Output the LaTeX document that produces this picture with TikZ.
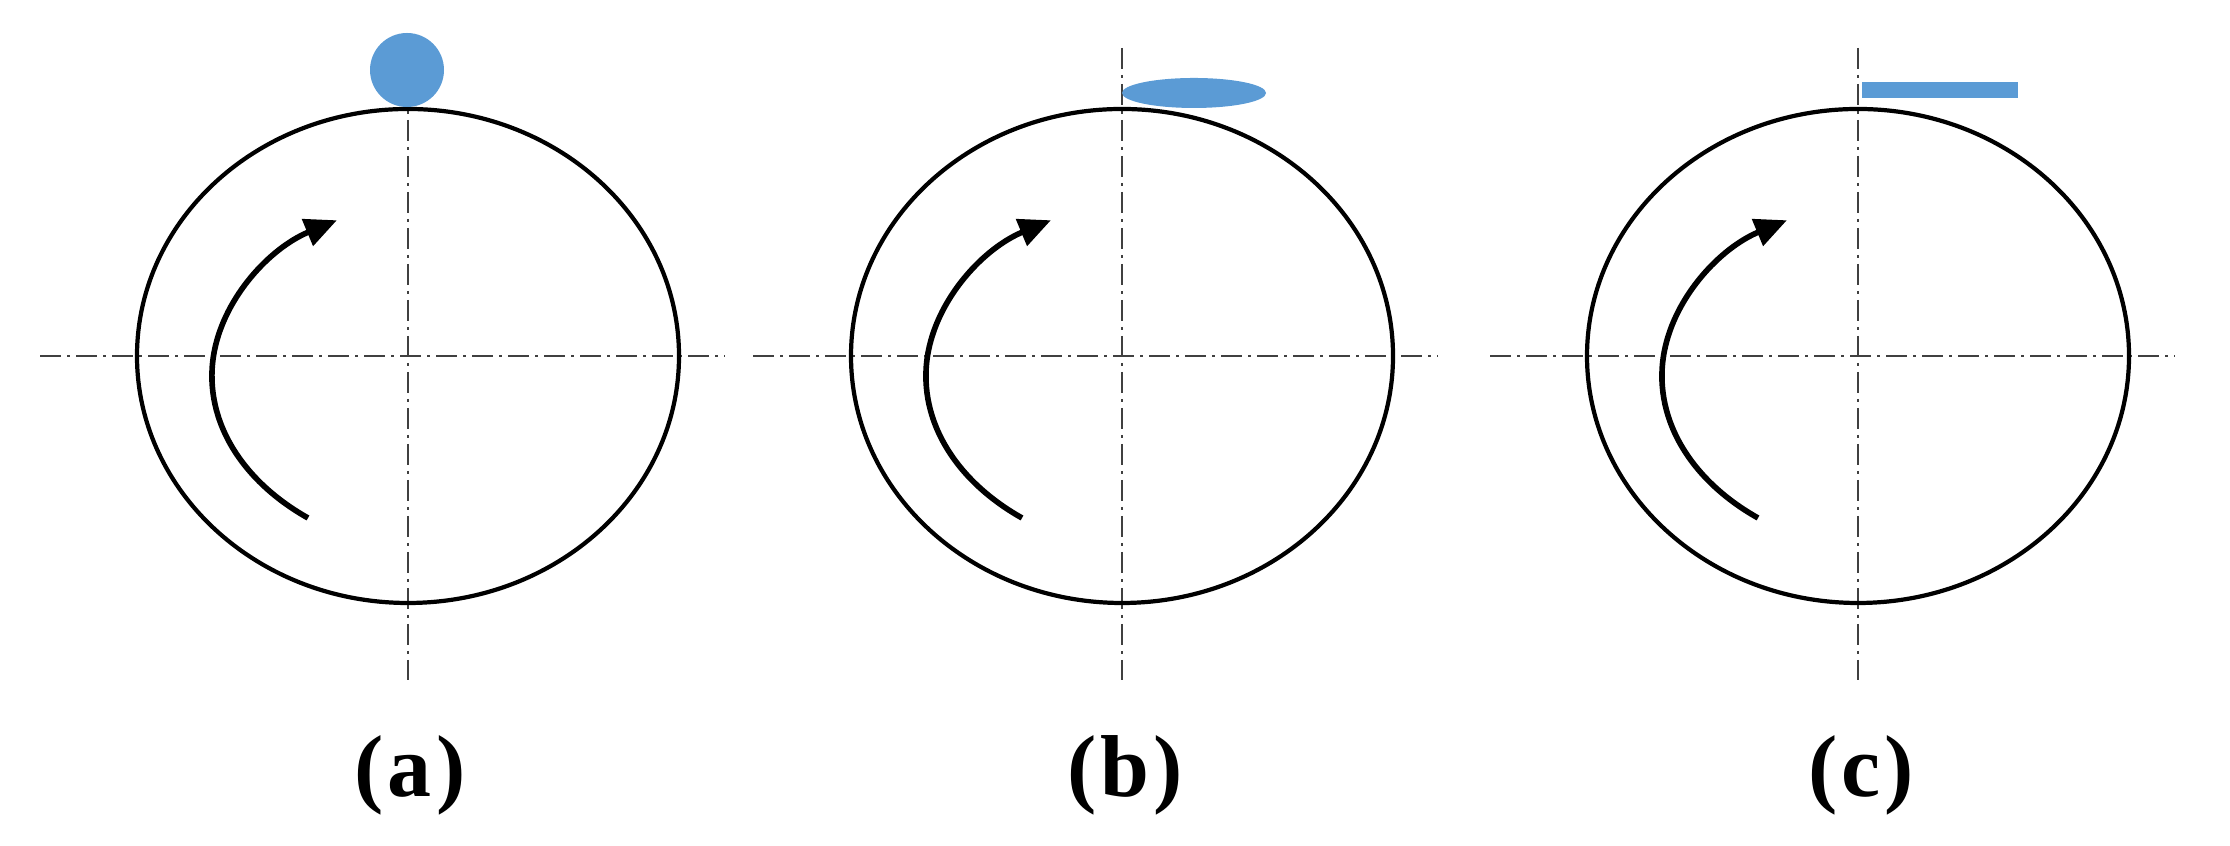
\documentclass[tikz,border=0pt]{standalone}
\usepackage{fontspec}
\setmainfont{Liberation Serif}
\usetikzlibrary{calc,arrows.meta}
\definecolor{dropblue}{HTML}{5B9BD5}

\begin{document}
\begin{tikzpicture}[x=0.1mm,y=0.1mm,
  wheel/.style={black,line width=1.2pt},
  axisline/.style={black!75,line width=0.7pt,
    dash pattern=on 2.1mm off 0.6mm on 0.3mm off 0.6mm},
  spin/.style={line width=1.6pt,-{Triangle[length=3.2mm,width=2.8mm]}},
  drop/.style={fill=dropblue,draw=none},
  caption/.style={font=\fontsize{25}{30}\selectfont\bfseries,
    anchor=base,inner sep=0pt}]
\useasboundingbox (0,0) rectangle (2230,846);

\coordinate (oa) at (408,490);
\coordinate (ob) at (1122,490);
\coordinate (oc) at (1858,490);

% (a) round drop
\draw[axisline] ($(oa)+(-368,0)$) -- ($(oa)+(317,0)$);
\draw[axisline] ($(oa)+(0,308)$) -- ($(oa)+(0,-324)$);
\draw[wheel] (oa) ellipse[x radius=271,y radius=247];
\fill[drop] ($(oa)+(-1,286)$) circle[radius=37];
\draw[spin] ($(oa)+(-100,-162)$) arc[start angle=232,end angle=120,x radius=250,y radius=180];
\node[caption] (capa) at ($(oa)+(2,-441)$) {(\kern1.2pt a\kern1.2pt)};

% (b) flattened drop
\draw[axisline] ($(ob)+(-369,0)$) -- ($(ob)+(316,0)$);
\draw[axisline] ($(ob)+(0,308)$) -- ($(ob)+(0,-324)$);
\draw[wheel] (ob) ellipse[x radius=271,y radius=247];
\fill[drop] ($(ob)+(72,263)$) ellipse[x radius=72,y radius=15];
\draw[spin] ($(ob)+(-100,-162)$) arc[start angle=232,end angle=120,x radius=250,y radius=180];
\node[caption] (capb) at ($(ob)+(3,-441)$) {(\kern1.2pt b\kern1.2pt)};

% (c) film
\draw[axisline] ($(oc)+(-368,0)$) -- ($(oc)+(317,0)$);
\draw[axisline] ($(oc)+(0,308)$) -- ($(oc)+(0,-324)$);
\draw[wheel] (oc) ellipse[x radius=271,y radius=247];
\fill[drop] ($(oc)+(4,258)$) rectangle ($(oc)+(160,274)$);
\draw[spin] ($(oc)+(-100,-162)$) arc[start angle=232,end angle=120,x radius=250,y radius=180];
\node[caption] (capc) at ($(oc)+(3,-441)$) {(\kern1.2pt c\kern1.2pt)};
\end{tikzpicture}
\end{document}
